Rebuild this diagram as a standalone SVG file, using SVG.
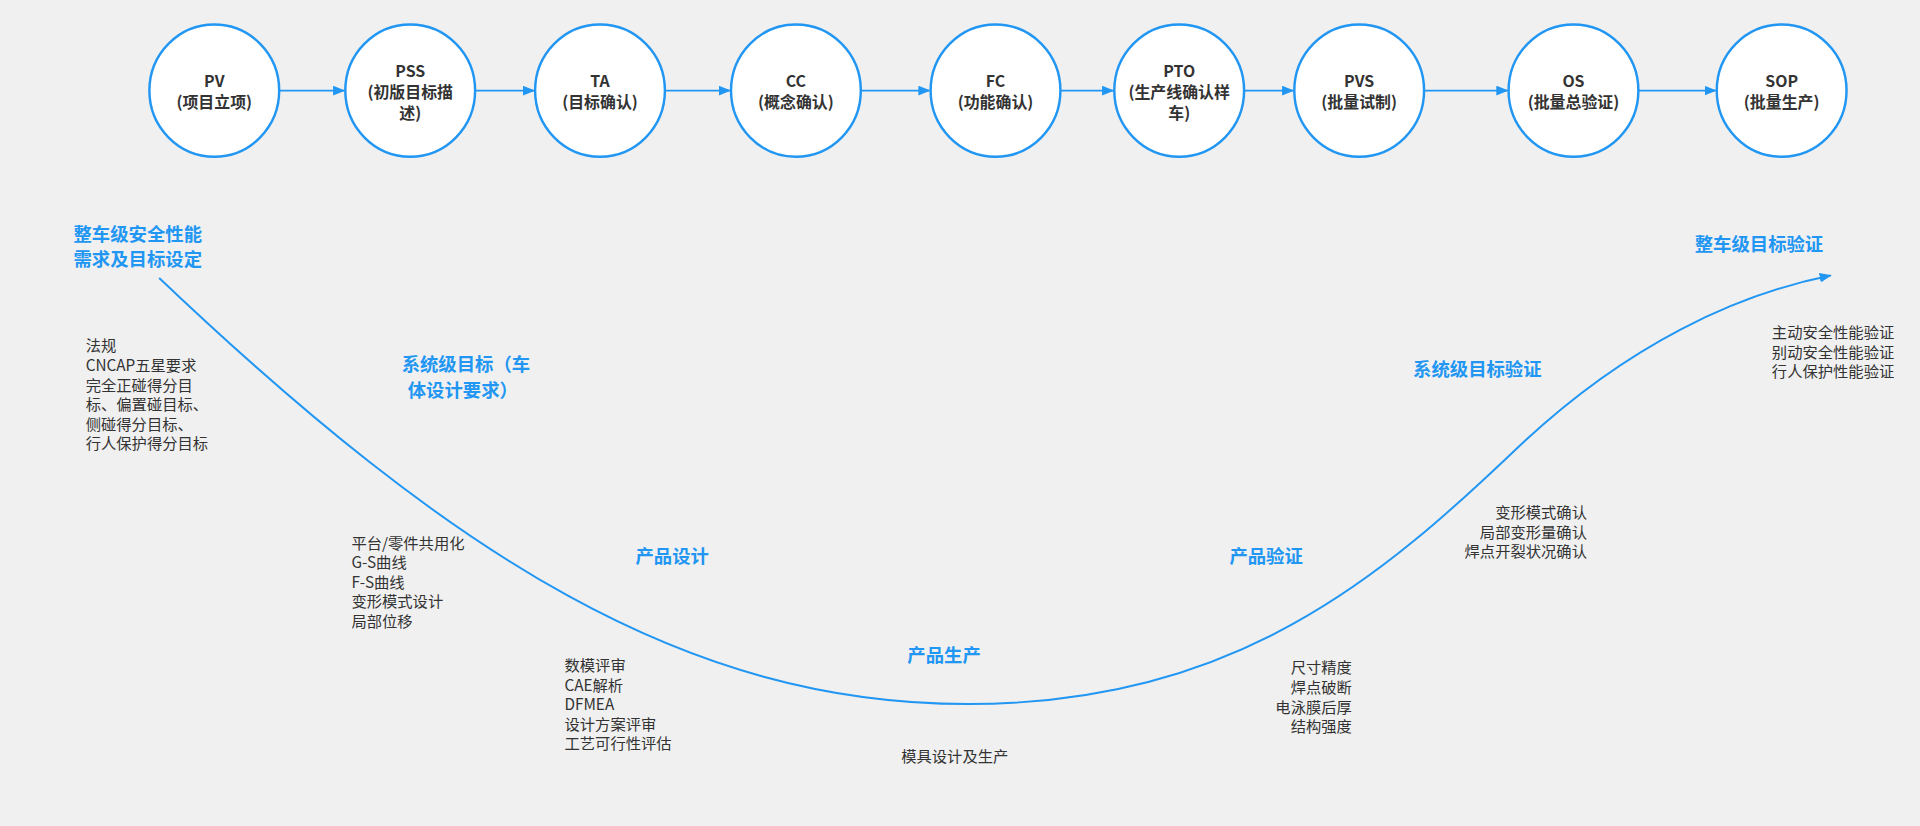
<svg xmlns="http://www.w3.org/2000/svg" width="1920" height="826" viewBox="0 0 1920 826">
<style>
.n ellipse{fill:#fff;stroke:#2196f3;stroke-width:2}
.n text{font-family:"Noto Sans CJK SC","Liberation Sans",sans-serif;font-weight:bold;font-size:13px;fill:#333;text-anchor:middle}
.b{font-family:"Noto Sans CJK SC","Liberation Sans",sans-serif;font-weight:bold;font-size:15px;fill:#2196f3}
.t{font-family:"Noto Sans CJK SC","Liberation Sans",sans-serif;font-size:12.5px;fill:#333}
.c{stroke:#2196f3;stroke-width:1.6;fill:none;marker-end:url(#a)}
</style>
<defs><marker id="a" markerWidth="10" markerHeight="8" refX="9" refY="4" orient="auto" markerUnits="userSpaceOnUse"><path d="M0,0L10,4L0,8z" fill="#2196f3"/></marker></defs>
<rect width="1920" height="826" fill="#f0f0f0"/>
<g transform="scale(1.2245)">
<g id="connectors">
<path class="c" d="M228,74H281"/><path class="c" d="M388,74H436"/><path class="c" d="M543,74H596"/><path class="c" d="M703,74H759"/><path class="c" d="M866,74H909"/><path class="c" d="M1016,74H1056"/><path class="c" d="M1163,74H1231"/><path class="c" d="M1338,74H1401"/>
<path class="c" d="M130,227C370,455 560,575 790,575C1010,575 1130,470 1240,365C1330,280 1420,240 1495,225"/>
</g>
<g id="PV" class="n"><ellipse cx="175" cy="74" rx="53" ry="54"/><text x="175" y="71">PV</text><text x="175" y="88">(项目立项)</text></g>
<g id="PSS" class="n"><ellipse cx="335" cy="74" rx="53" ry="54"/><text x="335" y="63">PSS</text><text x="335" y="80">(初版目标描</text><text x="335" y="97">述)</text></g>
<g id="TA" class="n"><ellipse cx="490" cy="74" rx="53" ry="54"/><text x="490" y="71">TA</text><text x="490" y="88">(目标确认)</text></g>
<g id="CC" class="n"><ellipse cx="650" cy="74" rx="53" ry="54"/><text x="650" y="71">CC</text><text x="650" y="88">(概念确认)</text></g>
<g id="FC" class="n"><ellipse cx="813" cy="74" rx="53" ry="54"/><text x="813" y="71">FC</text><text x="813" y="88">(功能确认)</text></g>
<g id="PTO" class="n"><ellipse cx="963" cy="74" rx="53" ry="54"/><text x="963" y="63">PTO</text><text x="963" y="80">(生产线确认样</text><text x="963" y="97">车)</text></g>
<g id="PVS" class="n"><ellipse cx="1110" cy="74" rx="53" ry="54"/><text x="1110" y="71">PVS</text><text x="1110" y="88">(批量试制)</text></g>
<g id="OS" class="n"><ellipse cx="1285" cy="74" rx="53" ry="54"/><text x="1285" y="71">OS</text><text x="1285" y="88">(批量总验证)</text></g>
<g id="SOP" class="n"><ellipse cx="1455" cy="74" rx="53" ry="54"/><text x="1455" y="71">SOP</text><text x="1455" y="88">(批量生产)</text></g>
<text class="b" x="60" y="197">整车级安全性能</text><text class="b" x="60" y="217">需求及目标设定</text>
<text class="t" x="70" y="287"><tspan x="70">法规</tspan><tspan x="70" dy="16">CNCAP五星要求</tspan><tspan x="70" dy="16">完全正碰得分目</tspan><tspan x="70" dy="16">标、偏置碰目标、</tspan><tspan x="70" dy="16">侧碰得分目标、</tspan><tspan x="70" dy="16">行人保护得分目标</tspan></text>
<text class="b" x="328" y="303">系统级目标（车</text><text class="b" x="333" y="324">体设计要求）</text>
<text class="t" x="287" y="448"><tspan x="287">平台/零件共用化</tspan><tspan x="287" dy="16">G-S曲线</tspan><tspan x="287" dy="16">F-S曲线</tspan><tspan x="287" dy="16">变形模式设计</tspan><tspan x="287" dy="16">局部位移</tspan></text>
<text class="b" x="519" y="460">产品设计</text>
<text class="t" x="461" y="548"><tspan x="461">数模评审</tspan><tspan x="461" dy="16">CAE解析</tspan><tspan x="461" dy="16">DFMEA</tspan><tspan x="461" dy="16">设计方案评审</tspan><tspan x="461" dy="16">工艺可行性评估</tspan></text>
<text class="b" x="741" y="541">产品生产</text>
<text class="t" x="736" y="622">模具设计及生产</text>
<text class="t" x="1104" y="550" text-anchor="end"><tspan x="1104">尺寸精度</tspan><tspan x="1104" dy="16">焊点破断</tspan><tspan x="1104" dy="16">电泳膜后厚</tspan><tspan x="1104" dy="16">结构强度</tspan></text>
<text class="b" x="1004" y="460">产品验证</text>
<text class="t" x="1296" y="423" text-anchor="end"><tspan x="1296">变形模式确认</tspan><tspan x="1296" dy="16">局部变形量确认</tspan><tspan x="1296" dy="16">焊点开裂状况确认</tspan></text>
<text class="b" x="1154" y="307">系统级目标验证</text>
<text class="b" x="1384" y="205">整车级目标验证</text>
<text class="t" x="1447" y="276"><tspan x="1447">主动安全性能验证</tspan><tspan x="1447" dy="16">别动安全性能验证</tspan><tspan x="1447" dy="16">行人保护性能验证</tspan></text>
</g>
</svg>
